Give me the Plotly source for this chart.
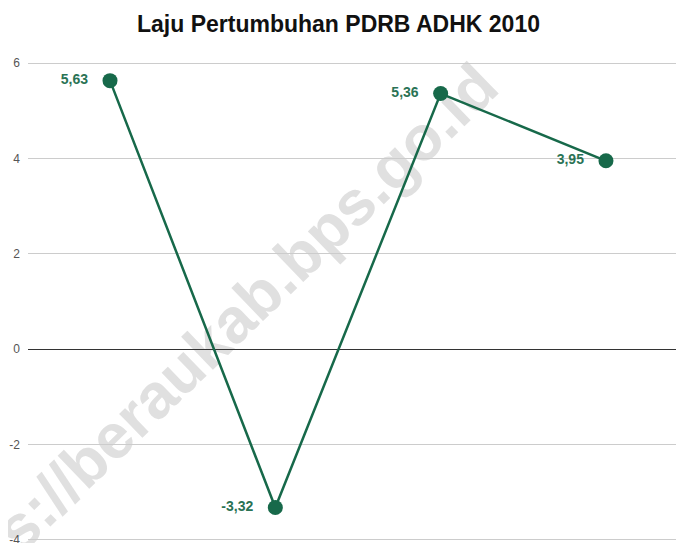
import plotly.graph_objects as go

categories = ["2019", "2020", "2021", "2022"]
values = [5.63, -3.32, 5.36, 3.95]
y_ticks = [-4, -2, 0, 2, 4, 6]
title_text = "Laju Pertumbuhan PDRB ADHK 2010"
watermark_text = "https://beraukab.bps.go.id"

GREEN = "#17694a"
OFF = 8  # page body margin offset
W, H = 684, 543
ML, MR, MT, MB = 28 - OFF, OFF, 60 - OFF, OFF

fig = go.Figure()
fig.add_trace(go.Scatter(
    x=categories, y=values,
    mode="lines+markers+text",
    line=dict(color=GREEN, width=2.5),
    marker=dict(color=GREEN, size=15),
    texttemplate="%{y:.2f}\u00a0\u00a0\u00a0",
    textposition="middle left",
    textfont=dict(family="Arial, Liberation Sans", size=14, color="#2a7355", weight="bold"),
    cliponaxis=False,
    showlegend=False,
))

# watermark as label of an invisible line shape drawn below the data
def px2paper(px, py):
    px -= OFF
    py -= OFF
    return (px - ML) / (W - ML - MR), (H - MB - py) / (H - MT - MB)

cx, cy = 199, 344
dx, dy = 0.719, -0.695
L = 300
x0, y0 = px2paper(cx - dx * L, cy - dy * L)
x1, y1 = px2paper(cx + dx * L, cy + dy * L)
fig.add_shape(
    type="line", xref="paper", yref="paper",
    x0=x0, y0=y0, x1=x1, y1=y1,
    line=dict(color="rgba(0,0,0,0)", width=0),
    layer="below",
    label=dict(text=watermark_text, textposition="middle", yanchor="middle",
               font=dict(family="Arial, Liberation Sans", size=63, color="#e0e0e0", weight="bold")),
)

fig.update_layout(
    width=W, height=H,
    margin=dict(l=ML, r=MR, t=MT, b=MB, autoexpand=False),
    paper_bgcolor="white", plot_bgcolor="white",
    separators=",.",
    title=dict(text="<b>" + title_text + "</b>", x=(338.5 - OFF) / W, xref="container",
               xanchor="center", y=1 - (23.5 - OFF) / H, yanchor="middle", automargin=False,
               font=dict(family="Arial, Liberation Sans", size=23, color="#111")),
    xaxis=dict(type="category", range=[-0.496, 3.472], showticklabels=False,
               showgrid=False, zeroline=False, showline=False, ticks="", automargin=False),
    yaxis=dict(range=[-4.063, 6.063], tickvals=y_ticks, ticktext=[str(v) for v in y_ticks],
               showgrid=True, gridcolor="#cccccc", gridwidth=1, automargin=False,
               zeroline=True, zerolinecolor="#333333", zerolinewidth=1,
               showline=False, ticks="", ticklabelstandoff=7,
               tickfont=dict(family="Arial, Liberation Sans", size=12, color="#555")),
)

fig.write_html("out.html")
